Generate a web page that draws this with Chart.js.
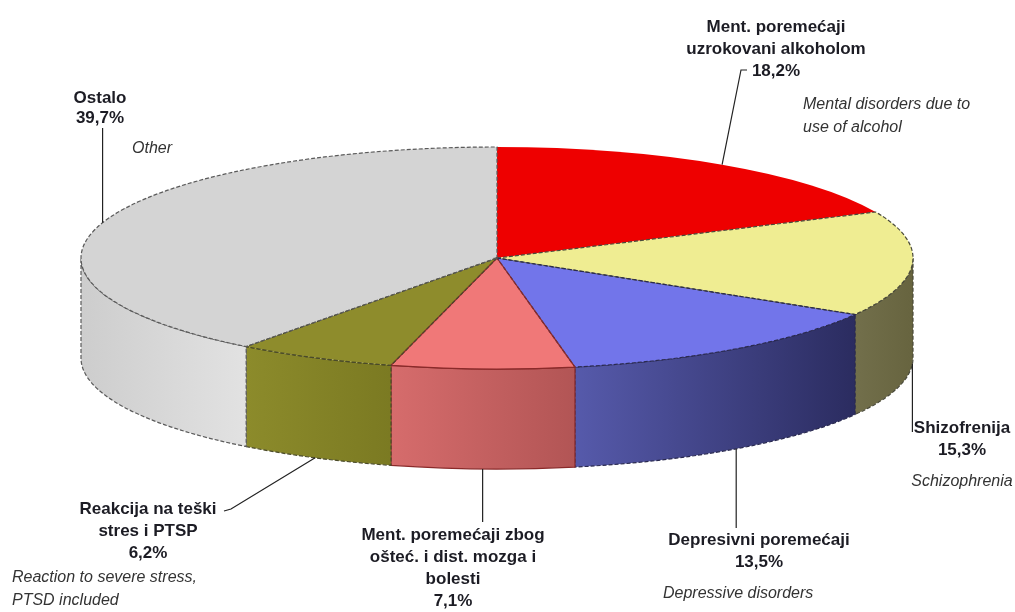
<!DOCTYPE html>
<html>
<head>
<meta charset="utf-8">
<script src="https://cdn.jsdelivr.net/npm/chart.js@4/dist/chart.umd.min.js"></script>
<style>
  body { margin: 0; background: #fff; }
</style>
</head>
<body>
<canvas id="pie" width="1015" height="612"></canvas>
<script>
// data
var categories = ['Ment. poremećaji uzrokovani alkoholom', 'Shizofrenija', 'Depresivni poremećaji',
                  'Ment. poremećaji zbog ošteć. i dist. mozga i bolesti', 'Reakcija na teški stres i PTSP', 'Ostalo'];
var labelLines = [['Ment. poremećaji', 'uzrokovani alkoholom'], ['Shizofrenija'], ['Depresivni poremećaji'],
                  ['Ment. poremećaji zbog', 'ošteć. i dist. mozga i', 'bolesti'], ['Reakcija na teški', 'stres i PTSP'], ['Ostalo']];
var englishLines = [['Mental disorders due to', 'use of alcohol'], ['Schizophrenia'], ['Depressive disorders'],
                    [], ['Reaction to severe stress,', 'PTSD included'], ['Other']];
var shares = [18.2, 15.3, 13.5, 7.1, 6.2, 39.7];

var topColors  = ['#ee0000', '#efed92', '#7275ea', '#f07878', '#8e8c2c', '#d4d4d4'];
var wallColors = [['#c00000', '#a00000'], ['#726f4b', '#67643f'], ['#565aab', '#2b2c60'],
                  ['#d66c6c', '#b25555'], ['#8c8b2b', '#7b7a22'], ['#cdcdcd', '#e2e2e2']];
var edgeColors = ['rgba(0,0,0,0)', '#4a4a3a', '#2a2a50', '#8a2a2a', '#4a4a2a', '#5a5a5a'];

var tilt = 111 / 416;   // vertical squash of the pie
var depth = 100;        // height of the side wall

// where the texts go (centre x, first line y)
var spots = [
  {x: 776, y: 27, lh: 22, ex: 803, ey: 105, ealign: 'left', line: [[741, 70], [747, 70]]},
  {x: 962, y: 428, lh: 22, ex: 962, ey: 482, ealign: 'center', line: [[null, 432]]},
  {x: 759, y: 540, lh: 22, ex: 663, ey: 594, ealign: 'left', line: [[null, 528]]},
  {x: 453, y: 535, lh: 22, ex: 0, ey: 0, ealign: 'left', line: [[null, 522]]},
  {x: 148, y: 509, lh: 22, ex: 12, ey: 578, ealign: 'left', line: [[231, 509], [224, 511]]},
  {x: 100, y: 98, lh: 20, ex: 132, ey: 149, ealign: 'left', line: [[null, 128]]}
];

function pct(v) { return v.toFixed(1).replace('.', ',') + '%'; }

function wallPath(ctx, cx, cy, rx, ry, a, b) {
  ctx.beginPath();
  ctx.ellipse(cx, cy, rx, ry, 0, a, b, false);
  ctx.lineTo(cx + rx * Math.cos(b), cy + depth + ry * Math.sin(b));
  ctx.ellipse(cx, cy + depth, rx, ry, 0, b, a, true);
  ctx.closePath();
}

var pie3d = {
  id: 'pie3d',
  beforeDatasetsDraw: function(chart) {
    var ctx = chart.ctx;
    var arcs = chart.getDatasetMeta(0).data;
    arcs.forEach(function(arc, i) {
      var a = Math.max(arc.startAngle, 0), b = Math.min(arc.endAngle, Math.PI);
      if (b <= a) return;
      var rx = arc.outerRadius, ry = rx * tilt;
      var g = ctx.createLinearGradient(arc.x + rx * Math.cos(b), 0, arc.x + rx * Math.cos(a), 0);
      g.addColorStop(0, wallColors[i][0]);
      g.addColorStop(1, wallColors[i][1]);
      wallPath(ctx, arc.x, arc.y, rx, ry, a, b);
      ctx.fillStyle = g;
      ctx.fill();
      ctx.lineWidth = 1.2;
      ctx.strokeStyle = edgeColors[i];
      ctx.setLineDash(i == 3 ? [] : [4, 2]);
      ctx.stroke();
    });
    ctx.setLineDash([]);
    // squash the flat pie into an ellipse
    var c = arcs[0];
    ctx.save();
    ctx.translate(c.x, c.y);
    ctx.scale(1, tilt);
    ctx.translate(-c.x, -c.y);
  },
  afterDatasetsDraw: function(chart) {
    var ctx = chart.ctx;
    ctx.restore();
    var arcs = chart.getDatasetMeta(0).data;
    // top outlines
    arcs.forEach(function(arc, i) {
      var rx = arc.outerRadius, ry = rx * tilt;
      ctx.beginPath();
      ctx.moveTo(arc.x, arc.y);
      ctx.lineTo(arc.x + rx * Math.cos(arc.startAngle), arc.y + ry * Math.sin(arc.startAngle));
      ctx.ellipse(arc.x, arc.y, rx, ry, 0, arc.startAngle, arc.endAngle, false);
      ctx.closePath();
      ctx.lineWidth = 1.2;
      ctx.strokeStyle = edgeColors[i];
      ctx.setLineDash(i == 3 ? [] : [4, 2]);
      ctx.stroke();
    });
    ctx.setLineDash([]);

    // leader lines and texts
    arcs.forEach(function(arc, i) {
      var s = spots[i];
      var mid = (arc.startAngle + arc.endAngle) / 2;
      var ax = arc.x + arc.outerRadius * Math.cos(mid);
      var ay = arc.y + arc.outerRadius * tilt * Math.sin(mid) + (Math.sin(mid) > 0 ? depth : 0);
      ctx.beginPath();
      ctx.moveTo(ax, ay);
      s.line.forEach(function(p) { ctx.lineTo(p[0] === null ? ax : p[0], p[1]); });
      ctx.lineWidth = 1.2;
      ctx.strokeStyle = '#222';
      ctx.stroke();

      ctx.fillStyle = '#1c1c24';
      ctx.font = 'bold 17px "Liberation Sans", Arial, sans-serif';
      ctx.textAlign = 'center';
      ctx.textBaseline = 'middle';
      var rows = labelLines[i].concat([pct(chart.data.datasets[0].data[i])]);
      rows.forEach(function(t, k) { ctx.fillText(t, s.x, s.y + k * s.lh); });

      ctx.fillStyle = '#333';
      ctx.font = 'italic 16px "Liberation Sans", Arial, sans-serif';
      ctx.textAlign = s.ealign;
      englishLines[i].forEach(function(t, k) { ctx.fillText(t, s.ex, s.ey + k * 23); });
    });
  }
};

var ctx = document.getElementById('pie');
var myChart = new Chart(ctx, {
  type: 'pie',
  data: {
    labels: categories,
    datasets: [{
      data: shares,
      backgroundColor: topColors,
      borderWidth: 0,
      radius: 416,
      clip: false
    }]
  },
  options: {
    responsive: false,
    animation: false,
    events: [],
    layout: { padding: { left: 0, right: 21, top: 0, bottom: 96 } },
    plugins: {
      legend: { display: false },
      tooltip: { enabled: false }
    }
  },
  plugins: [pie3d]
});
</script>
</body>
</html>
